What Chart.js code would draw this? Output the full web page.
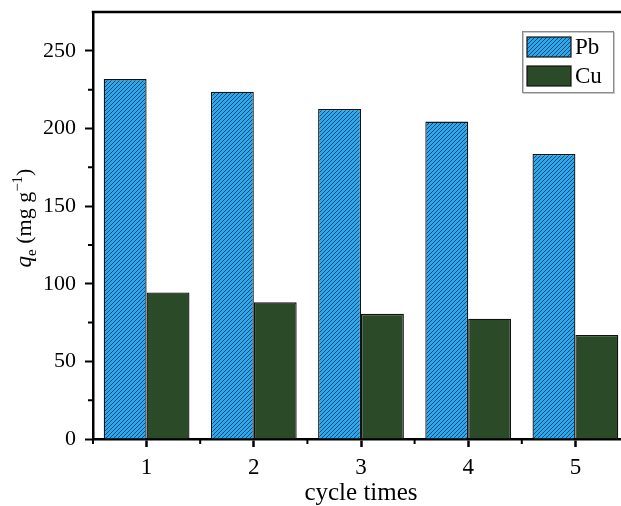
<!DOCTYPE html>
<html>
<head>
<meta charset="utf-8">
<script src="https://cdn.jsdelivr.net/npm/chart.js@4"></script>
<style>
  html, body { margin: 0; padding: 0; background: #fff; overflow: hidden; }
  #wrap { width: 640px; height: 506px; }
</style>
</head>
<body>
<div id="wrap"><canvas id="cycleChart"></canvas></div>
<script>
// adsorption capacity over regeneration cycles
const cycles = ['1', '2', '3', '4', '5'];
const pbValues = [231.8, 223.7, 212.6, 204.4, 183.6];
const cuValues = [94.4, 88.0, 80.6, 77.5, 67.0];
const yTicks = [0, 50, 100, 150, 200, 250];
const yMinorTicks = [25, 75, 125, 175, 225];

const SERIF = '"Liberation Serif", "Times New Roman", serif';

// diagonal hatch for the Pb bars
function makeHatch() {
    const tile = document.createElement('canvas');
    tile.width = 4; tile.height = 4;
    const g = tile.getContext('2d');
    g.fillStyle = '#27aaf0';
    g.fillRect(0, 0, 4, 4);
    g.strokeStyle = '#16466f';
    g.lineWidth = 1.0;
    g.beginPath();
    g.moveTo(0, 4); g.lineTo(4, 0);
    g.moveTo(-1, 1); g.lineTo(1, -1);
    g.moveTo(3, 5); g.lineTo(5, 3);
    g.stroke();
    return g.createPattern(tile, 'repeat');
}

// box frame, minor ticks, legend and the y title with sub/superscripts
const decorations = {
    id: 'decorations',
    afterDraw(chart) {
        const ctx = chart.ctx;
        const { left, right, top, bottom } = chart.chartArea;
        const ys = chart.scales.y;
        const xs = chart.scales.x;
        ctx.save();
        ctx.strokeStyle = '#000';
        ctx.lineWidth = 2.5;
        ctx.beginPath();
        ctx.moveTo(left - 1.2, top);
        ctx.lineTo(right, top);
        ctx.lineTo(right, bottom);
        ctx.stroke();

        ctx.lineWidth = 2;
        ctx.beginPath();
        yMinorTicks.forEach(v => {
            const py = ys.getPixelForValue(v);
            ctx.moveTo(left - 5, py);
            ctx.lineTo(left, py);
        });
        for (let i = -0.5; i <= cycles.length - 0.5; i++) {
            const px = xs.getPixelForValue(i);
            ctx.moveTo(px, bottom);
            ctx.lineTo(px, bottom + 5);
        }
        ctx.stroke();

        // legend
        const lx = 522, ly = 31, lw = 91, lh = 61;
        ctx.fillStyle = '#fff';
        ctx.fillRect(lx, ly, lw, lh);
        ctx.strokeStyle = '#c8c8c8';
        ctx.lineWidth = 1;
        ctx.strokeRect(lx + 1.5, ly + 1.5, lw, lh);
        ctx.strokeStyle = '#8a8a8a';
        ctx.strokeRect(lx + 0.5, ly + 0.5, lw, lh);
        chart.data.datasets.forEach((ds, i) => {
            const sy = ly + 6 + i * 29;
            ctx.fillStyle = ds.backgroundColor;
            ctx.fillRect(lx + 5, sy, 44, 20);
            ctx.strokeStyle = '#111';
            ctx.lineWidth = 1.2;
            ctx.strokeRect(lx + 5, sy, 44, 20);
            ctx.fillStyle = '#000';
            ctx.font = '23px ' + SERIF;
            ctx.textBaseline = 'middle';
            ctx.fillText(ds.label, lx + 53, sy + 11);
        });

        // y axis title: q_e (mg g^-1)
        const parts = [
            { t: 'q', f: 'italic 23px ' + SERIF, dy: 0 },
            { t: 'e', f: '15px ' + SERIF, dy: 5 },
            { t: ' (mg g', f: '22px ' + SERIF, dy: 0 },
            { t: '\u22121', f: '15px ' + SERIF, dy: -9 },
            { t: ')', f: '22px ' + SERIF, dy: 0 }
        ];
        let total = 0;
        parts.forEach(p => { ctx.font = p.f; p.w = ctx.measureText(p.t).width; total += p.w; });
        ctx.translate(31, 218);
        ctx.rotate(-Math.PI / 2);
        ctx.textBaseline = 'alphabetic';
        ctx.fillStyle = '#000';
        let cx = -total / 2;
        parts.forEach(p => {
            ctx.font = p.f;
            ctx.fillText(p.t, cx, p.dy);
            cx += p.w;
        });
        ctx.restore();
    }
};

const ctx = document.getElementById('cycleChart').getContext('2d');
const myChart = new Chart(ctx, {
    type: 'bar',
    data: {
        labels: cycles,
        datasets: [
            {
                label: 'Pb',
                data: pbValues,
                backgroundColor: makeHatch(),
                borderColor: '#111',
                borderWidth: 1.3,
                categoryPercentage: 0.8,
                barPercentage: 1.0
            },
            {
                label: 'Cu',
                data: cuValues,
                backgroundColor: '#2b4a27',
                borderColor: '#111',
                borderWidth: 1.3,
                categoryPercentage: 0.8,
                barPercentage: 1.0
            }
        ]
    },
    options: {
        responsive: true,
        maintainAspectRatio: false,
        animation: false,
        layout: { padding: { top: 12, right: 11, left: 0, bottom: 0 } },
        plugins: {
            legend: { display: false },
            tooltip: { enabled: false }
        },
        scales: {
            x: {
                offset: true,
                afterFit(scale) {
                    scale.height = 67;
                    scale.paddingLeft = 0;
                    scale.paddingRight = 0;
                },
                grid: {
                    offset: false,
                    drawOnChartArea: false,
                    tickLength: 8,
                    tickWidth: 2.5,
                    tickColor: '#000'
                },
                border: { display: true, color: '#000', width: 2.5 },
                ticks: {
                    color: '#000',
                    padding: 7,
                    font: { family: SERIF, size: 23 }
                },
                title: {
                    display: true,
                    text: 'cycle times',
                    color: '#000',
                    padding: { top: 0, bottom: 0 },
                    font: { family: SERIF, size: 25, lineHeight: 1.0 }
                }
            },
            y: {
                min: 0,
                max: 275,
                afterFit(scale) {
                    scale.width = 93;
                    scale.paddingTop = 0;
                    scale.paddingBottom = 0;
                },
                afterBuildTicks(scale) {
                    scale.ticks = yTicks.map(v => ({ value: v }));
                },
                grid: {
                    drawOnChartArea: false,
                    tickLength: 8,
                    tickWidth: 2,
                    tickColor: '#000'
                },
                border: { display: true, color: '#000', width: 2.5 },
                ticks: {
                    color: '#000',
                    padding: 9,
                    font: { family: SERIF, size: 22 }
                }
            }
        }
    },
    plugins: [decorations]
});
</script>
</body>
</html>
